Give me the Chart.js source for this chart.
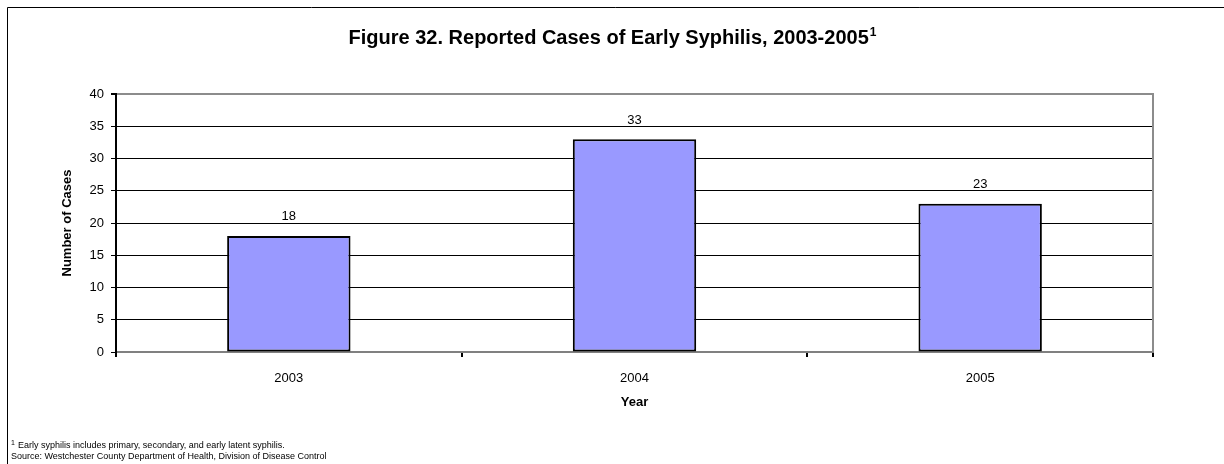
<!DOCTYPE html>
<html>
<head>
<meta charset="utf-8">
<script src="https://cdn.jsdelivr.net/npm/chart.js@4.4.0/dist/chart.umd.min.js"></script>
<style>
  html, body { margin: 0; padding: 0; background: #fff; }
  #wrap { width: 1224px; height: 464px; position: relative; }
</style>
</head>
<body>
<div id="wrap"><canvas id="syphilisChart"></canvas></div>
<script>
var years = ['2003', '2004', '2005']
var cases = [18, 33, 23]
var yTicks = [0, 5, 10, 15, 20, 25, 30, 35, 40]

var chartTitle = 'Figure 32. Reported Cases of Early Syphilis, 2003-2005'
var titleSup = '1'
var footnotes = [
    'Early syphilis includes primary, secondary, and early latent syphilis.',
    'Source: Westchester County Department of Health, Division of Disease Control'
]

var FONT = '"Liberation Sans", Arial, sans-serif'

// frame, title, right/top plot border, value labels, footnotes
var decorations = {
    id: 'decorations',
    beforeDraw: function(chart) {
        var ctx = chart.ctx
        ctx.save()
        ctx.fillStyle = '#fff'
        ctx.fillRect(0, 0, chart.width, chart.height)
        ctx.strokeStyle = '#000'
        ctx.lineWidth = 1
        ctx.beginPath()
        ctx.moveTo(7.5, chart.height)
        ctx.lineTo(7.5, 7.5)
        ctx.lineTo(chart.width, 7.5)
        ctx.stroke()
        ctx.restore()
    },
    afterDatasetsDraw: function(chart) {
        var ctx = chart.ctx
        var area = chart.chartArea
        ctx.save()

        // plot area border (right side)
        ctx.strokeStyle = '#8c8c8c'
        ctx.lineWidth = 2
        ctx.beginPath()
        ctx.moveTo(area.right, area.top - 1)
        ctx.lineTo(area.right, area.bottom)
        ctx.stroke()

        // title with superscript
        ctx.fillStyle = '#000'
        ctx.font = 'bold 20px ' + FONT
        ctx.textBaseline = 'alphabetic'
        var w = ctx.measureText(chartTitle).width
        ctx.font = 'bold 12px ' + FONT
        var sw = ctx.measureText(titleSup).width
        var x0 = chart.width / 2 - (w + sw) / 2
        ctx.font = 'bold 20px ' + FONT
        ctx.textAlign = 'left'
        ctx.fillText(chartTitle, x0, 44)
        ctx.font = 'bold 12px ' + FONT
        ctx.fillText(titleSup, x0 + w + 1, 36)

        // value labels
        ctx.font = '13px ' + FONT
        ctx.textAlign = 'center'
        ctx.textBaseline = 'middle'
        var meta = chart.getDatasetMeta(0)
        meta.data.forEach(function(bar, i) {
            ctx.fillText(String(cases[i]), bar.x, bar.y - 19)
        })

        // footnotes
        ctx.textAlign = 'left'
        ctx.textBaseline = 'middle'
        ctx.font = '7px ' + FONT
        ctx.fillText('1', 11, 443)
        ctx.font = '9px ' + FONT
        ctx.fillText(footnotes[0], 18, 446)
        ctx.fillText(footnotes[1], 11, 457)
        ctx.restore()
    }
}

new Chart(document.getElementById('syphilisChart').getContext('2d'), {
    type: 'bar',
    data: {
        labels: years,
        datasets: [{
            label: 'Number of Cases',
            data: cases,
            backgroundColor: '#9999ff',
            borderColor: '#000',
            borderWidth: 2,
            borderSkipped: false,
            barPercentage: 0.357,
            categoryPercentage: 1
        }]
    },
    options: {
        responsive: true,
        maintainAspectRatio: false,
        animation: false,
        layout: {
            padding: { left: 60, right: 71, top: 94, bottom: 54 }
        },
        plugins: {
            legend: { display: false },
            tooltip: { enabled: false },
            title: { display: false }
        },
        scales: {
            x: {
                afterFit: function(scale) { scale.height = 58 },
                grid: {
                    offset: true,
                    drawOnChartArea: false,
                    drawTicks: true,
                    tickLength: 5,
                    color: '#000',
                    lineWidth: 2
                },
                border: { color: '#808080', width: 2 },
                ticks: {
                    color: '#000',
                    font: { family: FONT, size: 13 },
                    padding: 14
                },
                title: {
                    display: true,
                    text: 'Year',
                    color: '#000',
                    font: { family: FONT, size: 13, weight: 'bold' },
                    padding: 0
                }
            },
            y: {
                min: 0,
                max: 40,
                afterFit: function(scale) { scale.width = 56 },
                afterBuildTicks: function(scale) {
                    scale.ticks = yTicks.map(function(v) { return { value: v } })
                },
                grid: {
                    color: function(c) {
                        if (c.tick && c.tick.value === 40) return '#8c8c8c'
                        return '#000'
                    },
                    lineWidth: function(c) {
                        if (c.tick && c.tick.value === 40) return 2
                        return 1
                    },
                    tickColor: '#000',
                    tickLength: 5
                },
                border: { color: '#000', width: 2 },
                ticks: {
                    color: '#000',
                    font: { family: FONT, size: 13 },
                    padding: 7
                },
                title: {
                    display: true,
                    text: 'Number of Cases',
                    color: '#000',
                    font: { family: FONT, size: 13, weight: 'bold' },
                    padding: 0
                }
            }
        }
    },
    plugins: [decorations]
})
</script>
</body>
</html>
